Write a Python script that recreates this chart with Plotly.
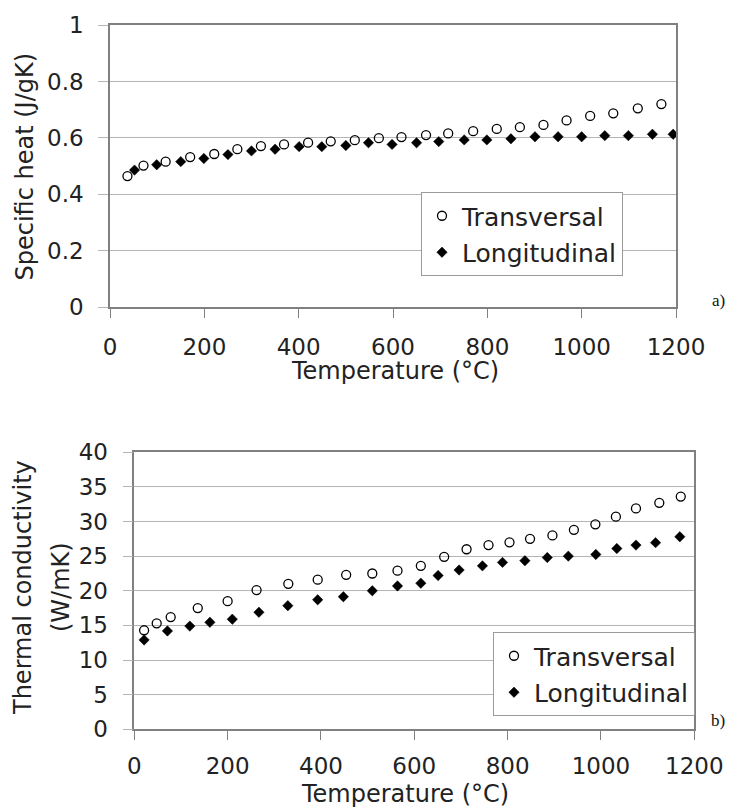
import plotly.graph_objects as go

# ---- data ----
a_trans_T = [37, 71, 118, 170, 221, 270, 320, 369, 420, 468, 519, 570, 618, 670, 717, 770, 820, 869, 919, 968, 1018, 1067, 1119, 1169]
a_trans_cp = [0.465, 0.502, 0.516, 0.532, 0.543, 0.560, 0.571, 0.577, 0.583, 0.588, 0.592, 0.599, 0.603, 0.610, 0.616, 0.624, 0.632, 0.638, 0.646, 0.662, 0.678, 0.687, 0.705, 0.720]

a_long_T = [52, 99, 150, 199, 250, 300, 350, 401, 449, 500, 548, 598, 650, 697, 751, 799, 850, 901, 950, 1000, 1049, 1099, 1150, 1194]
a_long_cp = [0.486, 0.505, 0.516, 0.527, 0.541, 0.554, 0.560, 0.569, 0.569, 0.573, 0.583, 0.577, 0.583, 0.587, 0.593, 0.593, 0.597, 0.604, 0.604, 0.604, 0.608, 0.608, 0.613, 0.613]

b_trans_T = [21, 48, 78, 136, 200, 262, 330, 393, 454, 510, 564, 614, 664, 712, 759, 804, 848, 896, 942, 988, 1032, 1075, 1125, 1171]
b_trans_k = [14.3, 15.3, 16.2, 17.5, 18.5, 20.1, 21.0, 21.6, 22.3, 22.5, 22.9, 23.6, 24.9, 26.0, 26.6, 27.0, 27.5, 28.0, 28.8, 29.6, 30.7, 31.9, 32.7, 33.6]

b_long_T = [21, 71, 119, 162, 210, 267, 329, 393, 448, 510, 564, 614, 651, 696, 746, 789, 837, 885, 930, 989, 1034, 1075, 1117, 1169]
b_long_k = [12.9, 14.2, 14.9, 15.45, 15.9, 16.9, 17.85, 18.7, 19.15, 20.0, 20.7, 21.1, 22.2, 23.0, 23.6, 24.1, 24.35, 24.8, 25.0, 25.25, 26.1, 26.6, 26.95, 27.8]

series_names = ["Transversal", "Longitudinal"]
x_title = "Temperature (°C)"
ya_title = "Specific heat (J/gK)"
yb_title_lines = ["Thermal conductivity", "(W/mK)"]
panel_labels = ["a)", "b)"]

OFF = 8  # page body margin
W, H = 737 - OFF, 811 - OFF
FONT = "DejaVu Sans"
TXT = "#222222"
AXC = "#808080"
GRID = "#b4b4b4"

circle = dict(symbol="circle-open", size=9, color="black", line=dict(color="black", width=1.3))
diamond = dict(symbol="diamond", size=8, color="black", line=dict(color="black", width=0.5))

fig = go.Figure()
fig.add_trace(go.Scatter(x=a_trans_T, y=a_trans_cp, mode="markers", name=series_names[0], marker=circle,
                         xaxis="x", yaxis="y", legend="legend", legendgroup="a1"))
fig.add_trace(go.Scatter(x=a_long_T, y=a_long_cp, mode="markers", name=series_names[1], marker=diamond,
                         xaxis="x", yaxis="y", legend="legend", legendgroup="a2"))
fig.add_trace(go.Scatter(x=b_trans_T, y=b_trans_k, mode="markers", name=series_names[0], marker=circle,
                         xaxis="x2", yaxis="y2", legend="legend2", legendgroup="b1"))
fig.add_trace(go.Scatter(x=b_long_T, y=b_long_k, mode="markers", name=series_names[1], marker=diamond,
                         xaxis="x2", yaxis="y2", legend="legend2", legendgroup="b2"))

def px(xp):
    return (xp - OFF) / W

def py(yp):
    return 1 - (yp - OFF) / H

xcommon = dict(range=[0, 1200], dtick=200, tick0=0, showgrid=False, zeroline=False, automargin=False,
               showline=True, linecolor=AXC, linewidth=1.5, mirror=True,
               ticks="outside", ticklen=9, tickcolor=AXC, tickwidth=1,
               tickfont=dict(family=FONT, size=23, color=TXT))
ycommon = dict(showgrid=True, gridcolor=GRID, gridwidth=1, zeroline=False, automargin=False,
               showline=True, linecolor=AXC, linewidth=1.5, mirror=True,
               ticks="outside", ticklen=10, tickcolor=GRID, tickwidth=1,
               tickfont=dict(family=FONT, size=23, color=TXT), ticklabelstandoff=10)

legcommon = dict(font=dict(family=FONT, size=25, color=TXT), bgcolor="white",
                 bordercolor="#9a9a9a", borderwidth=1, xanchor="left", yanchor="top",
                 tracegroupgap=1, itemwidth=30)

fig.update_layout(
    width=W, height=H,
    margin=dict(l=0, r=0, t=0, b=0, autoexpand=False),
    paper_bgcolor="white", plot_bgcolor="white",
    showlegend=True,
    xaxis=dict(domain=[px(110), px(676)], anchor="y", ticklabelstandoff=9, **xcommon),
    yaxis=dict(domain=[py(307.3), py(25)], anchor="x", range=[0, 1], dtick=0.2, tick0=0, **ycommon),
    xaxis2=dict(domain=[px(134.3), px(694.3)], anchor="y2", ticklabelstandoff=6, **xcommon),
    yaxis2=dict(domain=[py(729.3), py(452.3)], anchor="x2", range=[0, 40], dtick=5, tick0=0, **ycommon),
    legend=dict(x=px(421), y=py(192), **legcommon),
    legend2=dict(x=px(493), y=py(632), **legcommon),
)

ann_font = dict(family=FONT, size=24, color=TXT)
lab_font = dict(family="Liberation Serif", size=17, color="#111111")
annotations = [
    dict(text=x_title, x=px(395), y=py(371), xref="paper", yref="paper", showarrow=False,
         xanchor="center", yanchor="middle", font=ann_font),
    dict(text=x_title, x=px(405), y=py(794), xref="paper", yref="paper", showarrow=False,
         xanchor="center", yanchor="middle", font=ann_font),
    dict(text=ya_title, x=px(24), y=py(166.5), xref="paper", yref="paper", showarrow=False,
         textangle=-90, xanchor="center", yanchor="middle", font=ann_font),
    dict(text=yb_title_lines[0], x=px(23), y=py(588), xref="paper", yref="paper", showarrow=False,
         textangle=-90, xanchor="center", yanchor="middle", font=ann_font),
    dict(text=yb_title_lines[1], x=px(61), y=py(587), xref="paper", yref="paper", showarrow=False,
         textangle=-90, xanchor="center", yanchor="middle", font=ann_font),
    dict(text=panel_labels[0], x=px(727), y=py(300), xref="paper", yref="paper", showarrow=False,
         xanchor="right", yanchor="middle", font=lab_font),
    dict(text=panel_labels[1], x=px(727), y=py(720), xref="paper", yref="paper", showarrow=False,
         xanchor="right", yanchor="middle", font=lab_font),
]
fig.update_layout(annotations=annotations)

fig.write_html("out.html")
